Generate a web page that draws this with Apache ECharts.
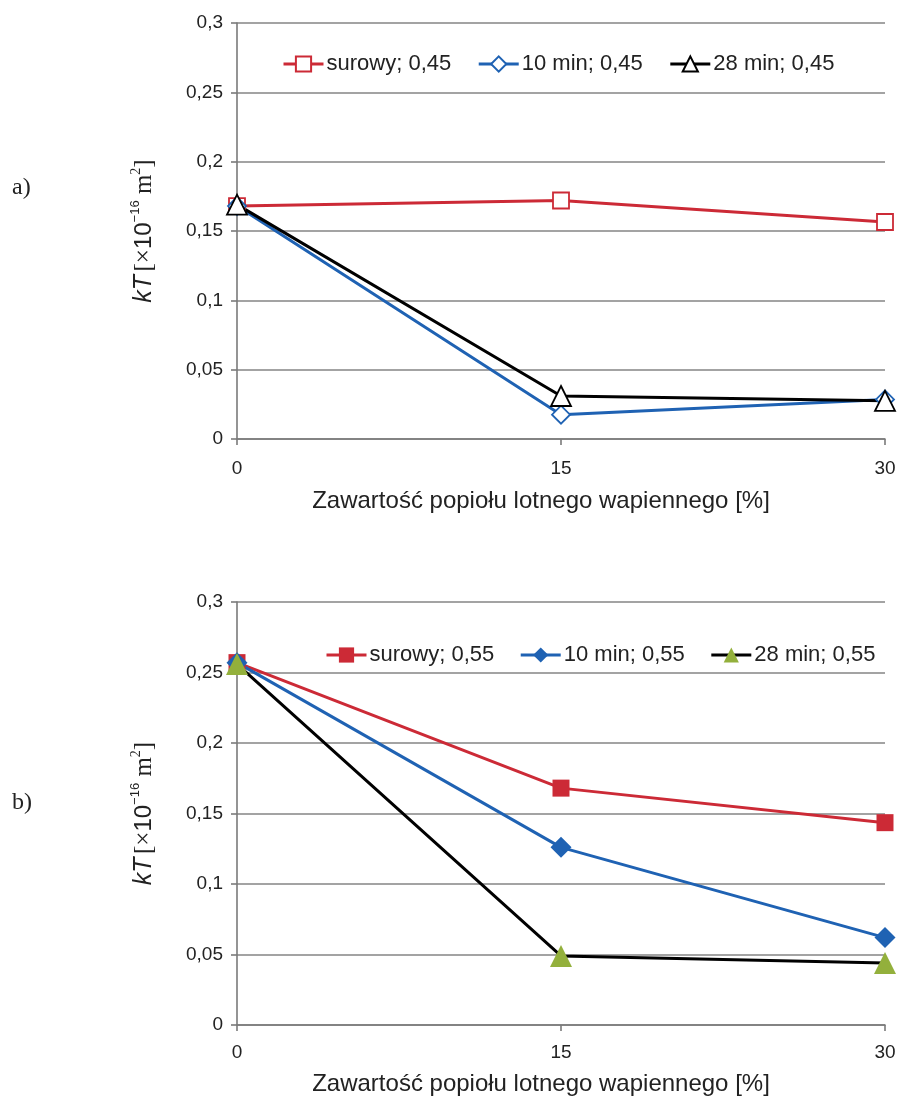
<!DOCTYPE html>
<html>
<head>
<meta charset="utf-8">
<script src="https://cdn.jsdelivr.net/npm/echarts@6/dist/echarts.min.js"></script>
<style>
html,body{margin:0;padding:0;background:#fff;}
#chart{width:900px;height:1097px;}
</style>
</head>
<body>
<div id="chart"></div>
<script>
// ---- data ----
var xValues = [0, 15, 30];
var yTickValues = [0, 0.05, 0.1, 0.15, 0.2, 0.25, 0.3];
var xTickValues = [0, 15, 30];

var legendTop = ['surowy; 0,45', '10 min; 0,45', '28 min; 0,45'];
var legendBottom = ['surowy; 0,55', '10 min; 0,55', '28 min; 0,55'];

var topSurowy = [0.168, 0.172, 0.1565];
var top10min = [0.168, 0.0175, 0.0285];
var top28min = [0.169, 0.031, 0.0275];

var botSurowy = [0.257, 0.168, 0.1435];
var bot10min = [0.257, 0.126, 0.062];
var bot28min = [0.256, 0.049, 0.044];

var xAxisTitle = 'Zawartość popiołu lotnego wapiennego [%]';
var panelLabels = ['a)', 'b)'];

// ---- styles ----
var RED = '#cc2a36', BLUE = '#1f62b3', BLACK = '#000000', GREEN = '#93b03c';
var AXIS = '#7a7a7a', GRID = '#858585';
var SANS = '"Liberation Sans", Arial, sans-serif';
var SERIF = '"Liberation Serif", "Times New Roman", serif';

function pairs(ys) { return xValues.map(function (x, i) { return [x, ys[i]]; }); }
function fmtY(v) { return String(Math.round(v * 100) / 100).replace('.', ','); }

function yAxis(gi) {
  return {
    gridIndex: gi, type: 'value', min: 0, max: 0.3, interval: 0.05,
    name: '{i|kT} {s|[×}{n|10}{sup|−16}{s| m}{sup2|2}{s|]}',
    nameLocation: 'middle', nameGap: 78, nameRotate: 90,
    nameTextStyle: {
      rich: {
        i: { fontStyle: 'italic', fontFamily: SANS, fontSize: 25, color: '#222', lineHeight: 30 },
        s: { fontFamily: SERIF, fontSize: 25, color: '#222', lineHeight: 30 },
        n: { fontFamily: SANS, fontSize: 24, color: '#222', lineHeight: 30 },
        sup: { fontFamily: SANS, fontSize: 13, color: '#222', verticalAlign: 'top', lineHeight: 16 },
        sup2: { fontFamily: SERIF, fontSize: 14, color: '#222', verticalAlign: 'top', lineHeight: 16 }
      }
    },
    axisLine: { show: true, lineStyle: { color: AXIS, width: 1.6 } },
    axisTick: { show: true, length: 6, lineStyle: { color: AXIS, width: 1.6 } },
    splitLine: { show: true, lineStyle: { color: GRID, width: 1.6 } },
    axisLabel: { fontFamily: SANS, fontSize: 19, color: '#222', margin: 14,
      formatter: function (v) { return fmtY(v); } }
  };
}
function xAxis(gi, labelMargin, gap) {
  return {
    gridIndex: gi, type: 'value', min: 0, max: 30, interval: 15,
    name: xAxisTitle, nameLocation: 'middle', nameGap: gap,
    nameTextStyle: { fontFamily: SANS, fontSize: 24, color: '#222', padding: [0, 40, 0, 0] },
    axisLine: { show: true, onZero: false, lineStyle: { color: AXIS, width: 1.6 } },
    axisTick: { show: true, length: 6, lineStyle: { color: AXIS, width: 1.6 } },
    splitLine: { show: false },
    axisLabel: { fontFamily: SANS, fontSize: 19, color: '#222', margin: labelMargin }
  };
}
function series(name, gi, data, color, symbol, size, filled) {
  return {
    name: name, type: 'line', xAxisIndex: gi, yAxisIndex: gi,
    data: pairs(data), symbol: symbol, symbolSize: size, clip: false,
    lineStyle: { color: color === GREEN ? BLACK : color, width: 3 },
    itemStyle: filled ? { color: color, borderWidth: 0 }
                      : { color: '#ffffff', borderColor: color, borderWidth: 1.8 },
    emphasis: { disabled: true }
  };
}

var chart = echarts.init(document.getElementById('chart'), null, { renderer: 'canvas' });
chart.setOption({
  animation: false,
  backgroundColor: '#ffffff',
  grid: [
    { left: 237, right: 15, top: 23, height: 416 },
    { left: 237, right: 15, top: 602, height: 424 }
  ],
  xAxis: [xAxis(0, 20, 50), xAxis(1, 18, 47)],
  yAxis: [yAxis(0), yAxis(1)],
  legend: [
    { data: legendTop, left: 277, top: 48, itemWidth: 40, itemHeight: 19, itemGap: 26,
      lineStyle: { width: 3 },
      textStyle: { fontFamily: SANS, fontSize: 22, color: '#222', padding: [0, 0, 0, -2] } },
    { data: legendBottom, left: 320, top: 639, itemWidth: 40, itemHeight: 19, itemGap: 25,
      lineStyle: { width: 3 },
      textStyle: { fontFamily: SANS, fontSize: 22, color: '#222', padding: [0, 0, 0, -2] } }
  ],
  graphic: [
    { type: 'text', left: 12, top: 176, style: { text: panelLabels[0], font: '24px ' + SERIF, fill: '#222' } },
    { type: 'text', left: 12, top: 791, style: { text: panelLabels[1], font: '24px ' + SERIF, fill: '#222' } }
  ],
  series: [
    series(legendTop[0], 0, topSurowy, RED, 'rect', 16, false),
    series(legendTop[1], 0, top10min, BLUE, 'diamond', 18, false),
    series(legendTop[2], 0, top28min, BLACK, 'triangle', 20, false),
    series(legendBottom[0], 1, botSurowy, RED, 'rect', 17, true),
    series(legendBottom[1], 1, bot10min, BLUE, 'diamond', 21, true),
    series(legendBottom[2], 1, bot28min, GREEN, 'triangle', 22, true)
  ]
});
</script>
</body>
</html>
